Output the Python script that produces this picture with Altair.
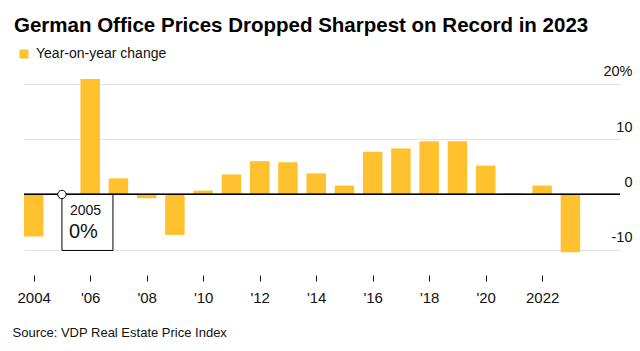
import altair as alt
import pandas as pd

# ---- data ----
years = list(range(2004, 2024))
changes = [-7.6, 0.0, 20.8, 2.9, -0.7, -7.3, 0.7, 3.6, 6.0, 5.8, 3.8, 1.6,
           7.7, 8.3, 9.6, 9.6, 5.2, 0.2, 1.6, -10.4]
tick_years = [2004, 2006, 2008, 2010, 2012, 2014, 2016, 2018, 2020, 2022]
y_ticks = [-10, 0, 10, 20]
series_name = "Year-on-year change"
note_year = [2005]
note_value = [0.0]
note_year_label = ["2005"]
note_value_label = ["0%"]

TITLE = "German Office Prices Dropped Sharpest on Record in 2023"
SOURCE = "Source: VDP Real Estate Price Index"

YELLOW = "#FFC12E"
FONT = "Liberation Sans"
GRID = "#e2e2e2"

W, H = 596, 183
x_domain = [2003.657, 2024.755]
y_domain = [-12, 21]

df = pd.DataFrame({"year": years, "change": changes})
df["series"] = series_name
df["x0"] = df["year"] - 0.345
df["x1"] = df["year"] + 0.345
df["zero"] = 0.0

note_df = pd.DataFrame({"year": note_year, "change": note_value,
                        "ylab": note_year_label, "vlab": note_value_label})
tick_df = pd.DataFrame({"tick": tick_years})

xs = alt.Scale(domain=x_domain, nice=False, zero=False)
ys = alt.Scale(domain=y_domain, nice=False, zero=False)

bars = alt.Chart(df).mark_bar(clip=False).encode(
    x=alt.X("x0:Q", scale=xs, axis=None),
    x2="x1",
    y=alt.Y("change:Q", scale=ys, axis=alt.Axis(
        orient="right", values=y_ticks, grid=True, gridColor=GRID, gridWidth=1,
        domain=False, ticks=False, labelAlign="right", labelPadding=12,
        labelBaseline="alphabetic", labelOffset=-8, labelFontSize=14.5,
        labelFont=FONT, labelColor="#111",
        labelExpr="datum.value == 20 ? '20%' : toString(datum.value)",
        title=None)),
    y2="zero",
    color=alt.Color("series:N", scale=alt.Scale(range=[YELLOW]),
                    legend=alt.Legend(title=None, orient="none", legendX=-7,
                                      legendY=-31, symbolType="square",
                                      symbolSize=81, symbolStrokeWidth=0,
                                      labelFont=FONT, labelFontSize=14,
                                      labelColor="#111", labelOffset=5,
                                      padding=0)),
)

zero_rule = alt.Chart(df).mark_rule(color="#000", strokeWidth=1).encode(
    y=alt.Y("zero:Q", scale=ys)
)

box = alt.Chart(note_df).mark_rect(width=51, height=56, xOffset=25.5, yOffset=28,
                                   fill="white", stroke="#000", strokeWidth=1).encode(
    x=alt.X("year:Q", scale=xs, axis=None),
    y=alt.Y("change:Q", scale=ys),
)

year_text = alt.Chart(note_df).mark_text(align="left", baseline="alphabetic", dx=8, dy=20.5,
                                         font=FONT, fontSize=14, color="#111").encode(
    x=alt.X("year:Q", scale=xs, axis=None),
    y=alt.Y("change:Q", scale=ys),
    text="ylab:N",
)

value_text = alt.Chart(note_df).mark_text(align="left", baseline="alphabetic", dx=7, dy=43.5,
                                          font=FONT, fontSize=20, color="#111").encode(
    x=alt.X("year:Q", scale=xs, axis=None),
    y=alt.Y("change:Q", scale=ys),
    text="vlab:N",
)

dot = alt.Chart(note_df).mark_point(shape="circle", filled=True, fill="white",
                                    stroke="#000", strokeWidth=1, size=70, opacity=1).encode(
    x=alt.X("year:Q", scale=xs, axis=None),
    y=alt.Y("change:Q", scale=ys),
)

ticks_layer = alt.Chart(tick_df).mark_point(opacity=0).encode(
    x=alt.X("tick:Q", scale=alt.Scale(domain=x_domain, nice=False, zero=False),
            axis=alt.Axis(
                values=tick_years, domain=False, grid=False, ticks=True,
                tickColor="#111", tickSize=6, tickWidth=1, offset=14,
                labelPadding=9, labelFont=FONT, labelFontSize=15, labelColor="#111",
                labelExpr="(datum.value == 2004 || datum.value == 2022) ? toString(datum.value) : \"'\" + substring(toString(datum.value), 2, 4)",
                title=SOURCE, titleFont=FONT, titleFontSize=13, titleFontWeight="normal",
                titleColor="#111", titleAnchor="start", titleAlign="left",
                titleBaseline="alphabetic", titleX=-12, titleY=61)),
)

chart = alt.layer(bars, zero_rule, box, year_text, value_text, dot, ticks_layer).resolve_scale(
    x="independent"
).properties(
    width=W, height=H,
    title=alt.TitleParams(TITLE, anchor="start", frame="group", dx=-10, offset=11,
                          font=FONT, fontSize=20.5, fontWeight="bold", color="#000"),
    padding={"left": 24, "top": 78, "right": 20, "bottom": 90},
    autosize=alt.AutoSizeParams(type="none"),
    background="white",
).configure_view(stroke=None)

chart.save("out.html", embed_options={"renderer": "svg", "actions": False})
